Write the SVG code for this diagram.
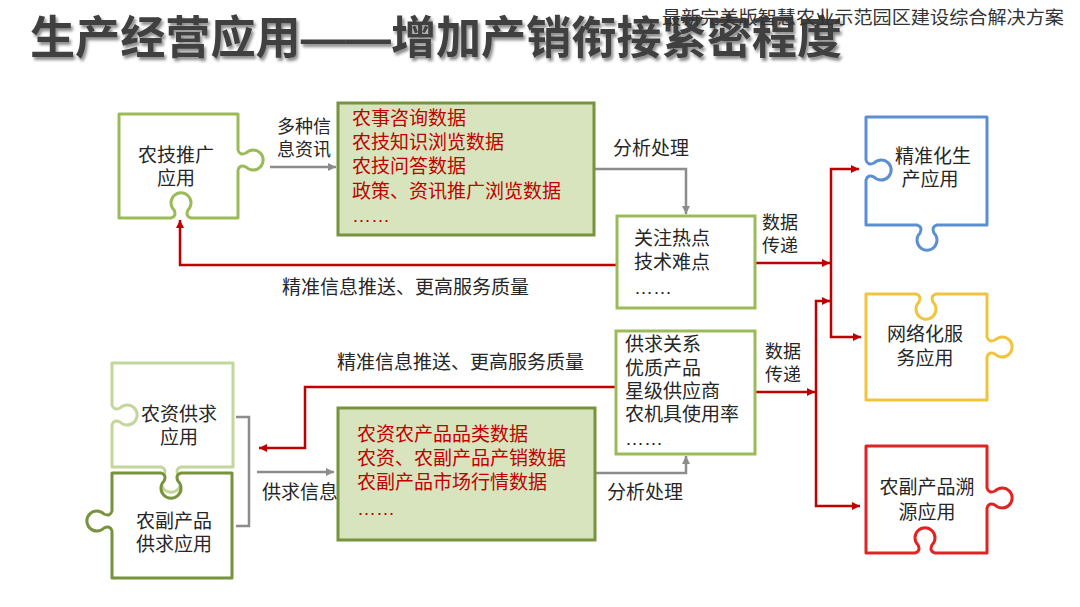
<svg xmlns="http://www.w3.org/2000/svg" width="1080" height="607" viewBox="0 0 1080 607">
<style>
  text { font-family: "Liberation Sans", "Noto Sans CJK SC", sans-serif; }
  .t { font-size: 19px; fill: #262626; }
  .s { font-size: 18px; fill: #262626; }
  .r { font-size: 19px; fill: #c00000; }
  .c { text-anchor: middle; }
  .piece { fill: #ffffff; stroke-width: 3; stroke-linejoin: round; }
  .box { stroke-width: 3; }
  .gray { fill: none; stroke: #8c8c8c; stroke-width: 2.5; }
  .red { fill: none; stroke: #c00000; stroke-width: 2.5; }
</style>
<defs>
  <marker id="ag" viewBox="0 0 10 10" refX="10" refY="5" markerUnits="userSpaceOnUse" markerWidth="9" markerHeight="8" orient="auto">
    <path d="M0,0 L10,5 L0,10 z" fill="#8c8c8c"/>
  </marker>
  <marker id="ar" viewBox="0 0 10 10" refX="10" refY="5" markerUnits="userSpaceOnUse" markerWidth="9" markerHeight="8" orient="auto">
    <path d="M0,0 L10,5 L0,10 z" fill="#c00000"/>
  </marker>
  <filter id="sh" x="-5%" y="-20%" width="110%" height="150%">
    <feDropShadow dx="2" dy="3" stdDeviation="1.5" flood-color="#000000" flood-opacity="0.45"/>
  </filter>
</defs>
<rect width="1080" height="607" fill="#ffffff"/>

<g id="title">
  <text x="30" y="54" font-size="45" font-weight="bold" fill="#404040" filter="url(#sh)" textLength="812" lengthAdjust="spacingAndGlyphs">生产经营应用——增加产销衔接紧密程度</text>
  <text x="662" y="24" font-size="18" fill="#333333" textLength="402" lengthAdjust="spacingAndGlyphs">最新完美版智慧农业示范园区建设综合解决方案</text>
</g>

<g id="connectors">
  <path class="gray" d="M270,167 H336" marker-end="url(#ag)"/>
  <path class="gray" d="M594,169 H686 V214" marker-end="url(#ag)"/>
  <path class="gray" d="M236,417 H249 V526 H236"/>
  <path class="gray" d="M257,472 H334" marker-end="url(#ag)"/>
  <path class="gray" d="M595,473 H686 V456" marker-end="url(#ag)"/>

  <path class="red" d="M617,265 H180 V220" marker-end="url(#ar)"/>
  <path class="red" d="M755,263 H830" marker-end="url(#ar)"/>
  <path class="red" d="M831,263 V169 H859" marker-end="url(#ar)"/>
  <path class="red" d="M831,263 V337 H861" marker-end="url(#ar)"/>
  <path class="red" d="M755,392 H815" marker-end="url(#ar)"/>
  <path class="red" d="M816,392 V301 H830" marker-end="url(#ar)"/>
  <path class="red" d="M816,392 V506 H860" marker-end="url(#ar)"/>
  <path class="red" d="M616,387 H305 V448 H259" marker-end="url(#ar)"/>

  <text class="s"><tspan x="277" y="133">多种信</tspan><tspan x="277" y="156">息资讯</tspan></text>
  <text class="t" x="613" y="155">分析处理</text>
  <text class="s"><tspan x="762" y="229">数据</tspan><tspan x="762" y="252">传递</tspan></text>
  <text class="t" x="282" y="294">精准信息推送、更高服务质量</text>
  <text class="t" x="337" y="369">精准信息推送、更高服务质量</text>
  <text class="s"><tspan x="765" y="358">数据</tspan><tspan x="765" y="381">传递</tspan></text>
  <text class="t" x="262" y="499">供求信息</text>
  <text class="t" x="607" y="499">分析处理</text>
</g>

<g id="nongji">
  <path class="piece" stroke="#9bbb59" d="M119,114 H238 V150 c 1,4 4,5 8,3 a 10,10 0 1,1 0,14 c -4,-2 -7,-1 -8,3 V218 H191 c -4,-1 -5,-4 -3,-8 a 10,10 0 1,0 -14,0 c 2,4 1,7 -3,8 H119 Z"/>
  <text class="t c"><tspan x="176" y="162">农技推广</tspan><tspan x="176" y="185">应用</tspan></text>
</g>

<g id="data-top">
  <rect class="box" x="338" y="103" width="256" height="132" fill="#d7e4bd" stroke="#77933c"/>
  <text class="r"><tspan x="352" y="125">农事咨询数据</tspan><tspan x="352" y="149">农技知识浏览数据</tspan><tspan x="352" y="173">农技问答数据</tspan><tspan x="352" y="198">政策、资讯推广浏览数据</tspan><tspan x="352" y="222">……</tspan></text>
</g>

<g id="focus">
  <rect class="box" x="617" y="216" width="138" height="92" fill="#ffffff" stroke="#9bbb59"/>
  <text class="t"><tspan x="634" y="245">关注热点</tspan><tspan x="634" y="269">技术难点</tspan><tspan x="634" y="294">……</tspan></text>
</g>

<g id="jingzhun">
  <path class="piece" stroke="#5b8fd0" d="M866,117 H987 V225 H937 c -4,1 -5,4 -3,8 a 10,10 0 1,1 -14,0 c 2,-4 1,-7 -3,-8 H866 V180 c 1,-4 4,-5 8,-3 a 10,10 0 1,0 0,-14 c -4,2 -7,1 -8,-3 V117 Z"/>
  <text class="t c"><tspan x="933" y="163">精准化生</tspan><tspan x="930" y="186">产应用</tspan></text>
</g>

<g id="wangluo">
  <path class="piece" stroke="#f0c43c" d="M866,294 H916 c 4,1 5,4 3,8 a 10,10 0 1,0 14,0 c -2,-4 -1,-7 3,-8 H987 V337 c 1,4 4,5 8,3 a 10,10 0 1,1 0,14 c -4,-2 -7,-1 -8,3 V400 H866 Z"/>
  <text class="t c"><tspan x="925" y="341">网络化服</tspan><tspan x="925" y="365">务应用</tspan></text>
</g>

<g id="suyuan">
  <path class="piece" stroke="#e02424" d="M866,446 H987 V488 c 1,4 4,5 8,3 a 10,10 0 1,1 0,14 c -4,-2 -7,-1 -8,3 V553 H935 c -4,-1 -5,-4 -3,-8 a 10,10 0 1,0 -14,0 c 2,4 1,7 -3,8 H866 Z"/>
  <text class="t c"><tspan x="927" y="494">农副产品溯</tspan><tspan x="927" y="519">源应用</tspan></text>
</g>

<g id="nongzi">
  <path class="piece" stroke="#c3d69b" d="M112,363 H233 V467 H181 c -4,1 -5,4 -3,8 a 10,10 0 1,1 -14,0 c 2,-4 1,-7 -3,-8 H112 V425 c 1,-4 4,-5 8,-3 a 10,10 0 1,0 0,-14 c -4,2 -7,1 -8,-3 V363 Z"/>
  <text class="t c"><tspan x="179" y="421">农资供求</tspan><tspan x="179" y="444">应用</tspan></text>
</g>

<g id="nongfu">
  <path class="piece" stroke="#77933c" d="M112,473 H161 c 4,1 5,4 3,8 a 10,10 0 1,0 14,0 c -2,-4 -1,-7 3,-8 H232 V578 H112 V531 c -1,-4 -4,-5 -8,-3 a 10,10 0 1,1 0,-14 c 4,2 7,1 8,-3 V473 Z"/>
  <text class="t c"><tspan x="174" y="528">农副产品</tspan><tspan x="174" y="551">供求应用</tspan></text>
</g>

<g id="data-bottom">
  <rect class="box" x="338" y="408" width="257" height="132" fill="#d7e4bd" stroke="#77933c"/>
  <text class="r"><tspan x="357" y="441">农资农产品品类数据</tspan><tspan x="357" y="465">农资、农副产品产销数据</tspan><tspan x="357" y="489">农副产品市场行情数据</tspan><tspan x="357" y="515">……</tspan></text>
</g>

<g id="supply">
  <rect class="box" x="616" y="331" width="139" height="123" fill="#ffffff" stroke="#9bbb59"/>
  <text class="t"><tspan x="625" y="351">供求关系</tspan><tspan x="625" y="375">优质产品</tspan><tspan x="625" y="398">星级供应商</tspan><tspan x="625" y="421">农机具使用率</tspan><tspan x="625" y="445">……</tspan></text>
</g>
</svg>
